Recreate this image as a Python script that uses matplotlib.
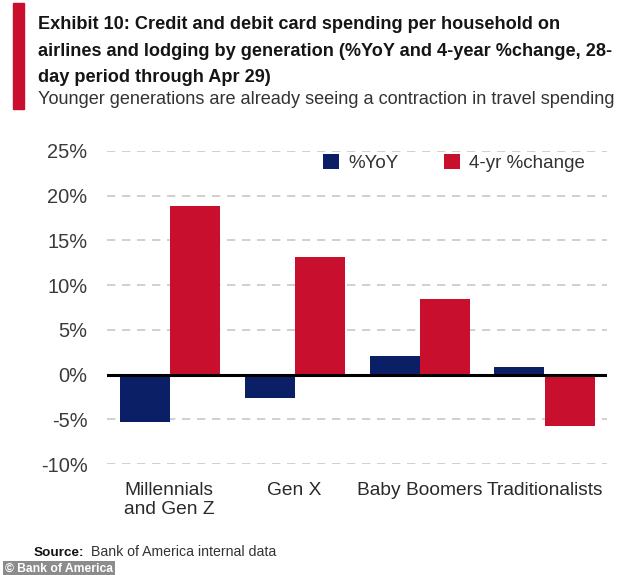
import matplotlib
matplotlib.use("Agg")
import matplotlib.pyplot as plt
from matplotlib.patches import Rectangle
import numpy as np

categories = ["Millennials\nand Gen Z", "Gen X", "Baby Boomers", "Traditionalists"]
yoy = [-5.3, -2.6, 2.1, 0.85]
four_yr = [18.9, 13.2, 8.4, -5.7]
series_names = ["%YoY", "4-yr %change"]
yticks = [-10, -5, 0, 5, 10, 15, 20, 25]
title_lines = ["Exhibit 10: Credit and debit card spending per household on",
               "airlines and lodging by generation (%YoY and 4-year %change, 28-",
               "day period through Apr 29)"]
subtitle = "Younger generations are already seeing a contraction in travel spending"

NAVY = "#0b1f66"
RED = "#c8102e"
plt.rcParams["font.family"] = ["Liberation Sans", "DejaVu Sans"]

W, H = 634, 575
fig = plt.figure(figsize=(W / 100, H / 100), dpi=100)
renderer = fig.canvas.get_renderer()


def fit(texts, width_px):
    """Scale font size of texts so the first one spans width_px."""
    bb = texts[0].get_window_extent(renderer)
    fs = texts[0].get_fontsize() * width_px / bb.width
    for t in texts:
        t.set_fontsize(fs)
    return fs


ax = fig.add_axes([107 / W, 1 - 464 / H, 500 / W, (464 - 151) / H])

x = np.arange(len(categories))
w = 0.4
ax.bar(x - w / 2, yoy, w, color=NAVY, label=series_names[0], zorder=3)
ax.bar(x + w / 2, four_yr, w, color=RED, label=series_names[1], zorder=3)

ax.set_xlim(-0.5, len(categories) - 0.5)
ax.set_ylim(-10, 25)
ax.set_yticks(yticks)
ax.set_yticklabels([f"{v}%" for v in yticks], fontsize=15, color="#3a3a3a")
ax.yaxis.grid(True, linestyle=(0, (5, 4)), color="#c8c8c8", linewidth=1.2, zorder=0)
ax.axhline(0, color="black", linewidth=2.2, zorder=4)
for s in ax.spines.values():
    s.set_visible(False)
ax.tick_params(axis="y", length=0, pad=14)

ax.set_xticks(x)
ax.set_xticklabels(categories, fontsize=15, color="#2a2a2a", linespacing=1.15)
ax.tick_params(axis="x", length=0, pad=13)
for lab in ax.get_xticklabels():
    lab.set_multialignment("left")

ylabs = ax.get_yticklabels()
fit([ylabs[-1]] + list(ylabs[:-1]), 40)
xlabs = ax.get_xticklabels()
fit([xlabs[3]] + list(xlabs[:3]), 118)

leg = ax.legend(loc="center right", bbox_to_anchor=((585 - 107) / 500, (464 - 163) / 313),
                ncol=2, frameon=False, fontsize=15, handlelength=0.75, handleheight=0.75,
                handletextpad=0.45, columnspacing=2.2, borderpad=0, borderaxespad=0)
lt = leg.get_texts()
fit([lt[1], lt[0]], 116)
for t in lt:
    t.set_color("#333333")

# Title block
fig.patches.append(Rectangle((13 / W, 1 - 109 / H), 11 / W, 106 / H,
                             transform=fig.transFigure, color=RED))
baselines = [29, 55.5, 82]
tts = [fig.text(38 / W, 1 - b / H, line, fontsize=15, fontweight="bold", va="baseline",
                ha="left", color="#151515") for line, b in zip(title_lines, baselines)]
fit([tts[1], tts[0], tts[2]], 575)
t2 = fig.text(38 / W, 1 - 104 / H, subtitle, fontsize=14.5, va="baseline", ha="left", color="#333333")
fit([t2], 577)

s2 = fig.text(91 / W, 1 - 556 / H, "Bank of America internal data", fontsize=11,
              va="baseline", color="#333333")
fs = fit([s2], 185)
s1 = fig.text(84 / W, 1 - 556 / H, "Source:", fontsize=fs * 0.95, fontweight="bold",
              va="baseline", ha="right", color="#111111")

wm = fig.text(5 / W, 1 - 568.5 / H, "© Bank of America", fontsize=10, fontweight="bold", color="white",
              va="center", ha="left",
              bbox=dict(boxstyle="square,pad=0.15", facecolor="#8c8c8c", edgecolor="none"))
fit([wm], 107)

fig.savefig("out.png", dpi=100)
